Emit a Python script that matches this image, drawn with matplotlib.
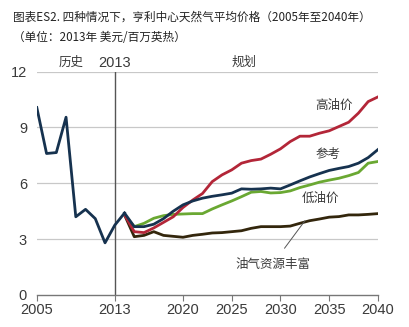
import matplotlib
matplotlib.use("Agg")
import matplotlib.pyplot as plt

plt.rcParams['font.family'] = ['Noto Sans CJK SC', 'DejaVu Sans']

hist_years = list(range(2005, 2015))
hist_vals = [10.07, 7.6, 7.65, 9.55, 4.2, 4.6, 4.1, 2.8, 3.75, 4.4]

proj_years = list(range(2014, 2041))
reference = [4.4, 3.67, 3.67, 3.8, 4.1, 4.5, 4.84, 5.05, 5.2, 5.3, 5.38, 5.47, 5.7, 5.68, 5.7, 5.74, 5.7,
             5.91, 6.13, 6.34, 6.52, 6.69, 6.8, 6.9, 7.08, 7.38, 7.81]
high_oil = [4.3, 3.4, 3.35, 3.6, 3.9, 4.2, 4.7, 5.1, 5.45, 6.09, 6.45, 6.72, 7.08, 7.22, 7.3, 7.56, 7.85,
            8.24, 8.53, 8.53, 8.69, 8.82, 9.05, 9.28, 9.77, 10.39, 10.64]
low_oil = [4.3, 3.67, 3.85, 4.12, 4.26, 4.33, 4.35, 4.37, 4.37, 4.62, 4.84, 5.05, 5.28, 5.52, 5.56, 5.48, 5.5,
           5.59, 5.77, 5.91, 6.06, 6.17, 6.27, 6.41, 6.58, 7.08, 7.17]
abundant = [4.3, 3.13, 3.2, 3.4, 3.2, 3.15, 3.1, 3.2, 3.26, 3.33, 3.35, 3.4, 3.45, 3.58, 3.67, 3.67, 3.67,
            3.7, 3.85, 3.99, 4.08, 4.18, 4.21, 4.3, 4.3, 4.33, 4.37]

xticks = [2005, 2013, 2020, 2025, 2030, 2035, 2040]
yticks = [0, 3, 6, 9, 12]

title1 = "图表ES2. 四种情况下，亨利中心天然气平均价格（2005年至2040年）"
title2 = "（单位：2013年 美元/百万英热）"

c_blue = "#16324f"
c_red = "#b32638"
c_green = "#6aa832"
c_brown = "#33260c"
txt = "#3a3a3a"
num_font = ['Liberation Sans', 'Noto Sans CJK SC']

fig = plt.figure(figsize=(4.09, 3.27), dpi=100)
ax = fig.add_axes([0.09, 0.098, 0.834, 0.683])

for y in yticks[1:]:
    ax.axhline(y, color="#c8c8c8", lw=0.9, zorder=0)

ax.axvline(2013, color="#555555", lw=1.0, zorder=1, ymax=1.0)

lw = 2.0
ax.plot(proj_years, abundant, color=c_brown, lw=lw, zorder=3)
ax.plot(proj_years, low_oil, color=c_green, lw=lw, zorder=3)
ax.plot(proj_years, high_oil, color=c_red, lw=lw, zorder=4)
ax.plot(proj_years, reference, color=c_blue, lw=lw, zorder=5)
ax.plot(hist_years, hist_vals, color=c_blue, lw=lw, zorder=5)

ax.set_xlim(2005, 2040)
ax.set_ylim(0, 12)
for s in ["top", "right", "left"]:
    ax.spines[s].set_visible(False)
ax.spines["bottom"].set_color("#777777")
ax.spines["bottom"].set_linewidth(1.0)

ax.set_xticks(xticks)
ax.set_xticklabels([str(v) for v in xticks], family=num_font)
ax.set_yticks(yticks)
ax.set_yticklabels([str(v) for v in yticks], family=num_font)
ax.tick_params(axis="x", length=4, color="#777777", labelsize=10.5, labelcolor=txt, pad=2)
ax.tick_params(axis="y", length=0, labelsize=10.5, labelcolor=txt, pad=7)

ax.text(2008.5, 12.15, "历史", fontsize=9, color=txt, ha="center", va="bottom")
ax.text(2013, 12.1, "2013", fontsize=10.5, color=txt, ha="center", va="bottom", family=num_font)
ax.text(2026.3, 12.15, "规划", fontsize=9, color=txt, ha="center", va="bottom")

ax.text(2035.5, 10.2, "高油价", fontsize=9, color=txt, ha="center", va="center")
ax.text(2034.9, 7.55, "参考", fontsize=9, color=txt, ha="center", va="center")
ax.text(2034.1, 5.2, "低油价", fontsize=9, color=txt, ha="center", va="center")
ax.annotate("油气资源丰富", xy=(2032.5, 3.98), xytext=(2029.2, 1.65),
            fontsize=9, color=txt, ha="center", va="center",
            arrowprops=dict(arrowstyle="-", color="#555555", lw=0.7, shrinkA=6, shrinkB=0))

fig.text(0.032, 0.948, title1, fontsize=8.4, color="#222222", ha="left", va="center")
fig.text(0.032, 0.884, title2, fontsize=8.4, color="#222222", ha="left", va="center")

fig.savefig("out.png", dpi=100)
